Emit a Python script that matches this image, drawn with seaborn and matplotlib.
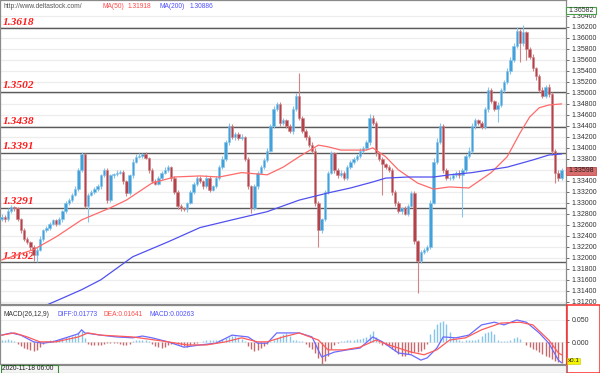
import numpy as np
import pandas as pd
import matplotlib
matplotlib.use("Agg")
import matplotlib.pyplot as plt
import seaborn as sns
from matplotlib.patches import Rectangle

# ================== DATA ==================
# closes in pips above 1.3000 (one candle per bar)
close_pips = [
    275, 270, 285, 292, 290, 270, 250, 235, 228, 220,
    205, 215, 235, 250, 255, 262, 268, 262, 270, 285,
    300, 305, 315, 325, 360, 388, 295, 315, 320, 325,
    330, 350, 360, 305, 350, 352, 355, 356, 340, 318,
    350, 375, 384, 385, 388, 382, 360, 340, 335, 345,
    355, 360, 365, 345, 320, 295, 290, 288, 300, 320,
    335, 345, 340, 330, 345, 324, 330, 345, 365, 380,
    410, 440, 420, 425, 418, 420, 380, 330, 290, 330,
    355, 365, 378, 395, 440, 470, 480, 445, 450, 440,
    430, 470, 495, 455, 430, 420, 405, 395, 300, 250,
    270, 320, 355, 390, 360, 350, 355, 345, 365, 375,
    380, 385, 395, 400, 410, 455, 445, 390, 380, 370,
    365, 360, 320, 300, 285, 290, 280, 295, 318, 230,
    195, 210, 215, 220, 300, 375, 410, 440, 360, 345,
    345, 350, 355, 350, 360, 385, 395, 440, 450, 445,
    438, 470, 505, 485, 470, 478, 505, 520, 540, 560,
    585, 612, 590, 610, 580, 565, 545, 530, 505, 495,
    510, 498, 395, 355, 345, 360,
]
first_open = 270

wick_up = [
    4, 3, 5, 4, 3, 2, 3, 4, 3, 2,
    3, 4, 5, 3, 2, 4, 3, 3, 5, 2,
    3, 4, 3, 5, 3, 4, 2, 3, 4, 3,
    5, 3, 4, 3, 2, 3, 4, 3, 3, 2,
    3, 4, 5, 6, 3, 4, 2, 3, 3, 4,
    3, 5, 3, 2, 3, 4, 3, 3, 2, 4,
    3, 4, 3, 2, 5, 3, 3, 4, 3, 5,
    4, 6, 3, 4, 3, 5, 2, 3, 3, 4,
    3, 4, 3, 5, 4, 6, 4, 3, 5, 3,
    4, 6, 5, 41, 3, 4, 3, 5, 4, 3,
    3, 4, 3, 5, 3, 3, 4, 3, 4, 3,
    3, 4, 5, 3, 4, 6, 4, 3, 3, 4,
    3, 4, 3, 3, 4, 3, 5, 3, 4, 3,
    3, 4, 3, 4, 5, 6, 8, 5, 4, 3,
    3, 4, 3, 5, 3, 4, 6, 5, 4, 3,
    4, 5, 6, 4, 3, 5, 4, 4, 5, 6,
    5, 8, 4, 13, 3, 4, 5, 3, 4, 5,
    4, 6, 3, 3, 4, 3,
]
wick_dn = [
    3, 4, 3, 3, 4, 3, 5, 4, 3, 5,
    10, 12, 3, 4, 3, 4, 3, 5, 3, 4,
    3, 4, 3, 3, 4, 3, 5, 30, 3, 4,
    3, 4, 3, 5, 3, 4, 3, 3, 5, 6,
    3, 4, 3, 3, 4, 3, 5, 4, 3, 3,
    4, 3, 3, 5, 4, 6, 5, 3, 4, 3,
    3, 4, 3, 5, 3, 4, 3, 3, 4, 3,
    3, 4, 3, 5, 3, 4, 3, 5, 8, 3,
    4, 3, 3, 4, 3, 4, 3, 5, 3, 4,
    3, 4, 3, 4, 3, 5, 3, 4, 5, 30,
    4, 3, 4, 3, 5, 4, 3, 4, 3, 3,
    4, 3, 3, 4, 3, 4, 3, 5, 4, 55,
    3, 4, 5, 6, 4, 5, 3, 4, 3, 5,
    59, 4, 3, 5, 4, 3, 4, 3, 5, 4,
    3, 4, 3, 5, 75, 4, 3, 4, 5, 4,
    3, 4, 5, 4, 3, 23, 4, 3, 4, 5,
    4, 3, 34, 5, 20, 4, 5, 6, 4, 5,
    4, 5, 8, 19, 6, 4,
]

# moving averages (candle index, pips above 1.3000)
ma50_idx = [0, 10, 17, 25, 34, 39, 47, 54, 62, 68, 75, 83, 88, 93, 99, 102,
            106, 114, 116, 120, 124, 130, 135, 140, 146, 153, 158, 162, 165,
            168, 171, 175]
ma50_pips = [196, 215, 238, 269, 291, 305, 336, 347, 349, 347, 355, 351, 365,
             384, 405, 402, 396, 396, 400, 384, 360, 336, 325, 329, 327, 355,
             384, 427, 456, 473, 478, 480]
ma200_idx = [12, 18, 25, 31, 41, 52, 62, 72, 83, 93, 102, 109, 116, 120, 127,
             135, 140, 147, 158, 166, 171, 175]
ma200_pips = [109, 124, 142, 160, 202, 229, 255, 269, 284, 305, 318, 327, 338,
              345, 347, 347, 351, 355, 365, 378, 387, 389]

# MACD lines (candle index, value x0.001)
diff_idx = [0, 3, 6, 10, 13, 16, 20, 24, 25, 26, 31, 36, 41, 44, 47, 52, 57,
            62, 67, 72, 77, 80, 83, 86, 89, 93, 97, 100, 104, 108, 112, 116,
            119, 124, 128, 131, 133, 136, 138, 142, 146, 150, 154, 157, 161,
            164, 168, 171, 174, 175]
diff_val = [16, 21, 16, 1, -2, 1, 10, 19, 28, 21, 16, 12, 10, 14, 10, 1, -11,
            -6, -2, 16, 12, -2, -2, 21, 21, 21, 12, -33, -22, -17, -13, 12,
            1, -24, -28, -40, -35, -13, 12, 10, 16, 39, 45, 39, 50, 45, 21,
            -2, -40, -46]
dea_idx = [0, 4, 8, 12, 17, 24, 27, 31, 41, 46, 52, 58, 64, 70, 75, 80, 83,
           88, 93, 99, 102, 107, 112, 117, 121, 128, 132, 136, 140, 145, 150,
           156, 162, 166, 171, 174, 175]
dea_val = [16, 21, 12, 1, 1, 12, 21, 16, 12, 7, 1, -6, -6, 1, 10, 1, 1, 12,
           21, 5, -17, -17, -11, 5, -6, -22, -28, -17, 5, 10, 28, 43, 45, 39,
           5, -24, -28]
macd_hist = [
    4, 6, 7, 5, 3,
    -3, -8, -12, -15, -18, -20, -17, -10,
    -4, 2, 4, 5, 6, 8, 9, 11, 12, 14, 17, 22, 25,
    10, -3, -5, -6, -6, -5,
    -3, -2, -2, -1, -2, -3,
    -5, -6, -4,
    2, 4, 5, 6, 5, 3,
    -4, -8, -11, -13, -10, -6,
    -3, -2, -3,
    -6, -9, -10, -7,
    -4, -2, 1,
    3, 4, 5, 6, 5, 6, 7,
    9, 11, 13, 14, 12, 8,
    2,
    -8, -14, -20, -18, -13, -8,
    -3, 2, 6,
    10, 14, 18, 20, 14,
    6, 4, 3, 2,
    -4, -10, -16, -24, -36,
    -48, -42, -30,
    -16, -7, -2,
    2, 3, 4, 5, 6, 7, 8, 10, 12,
    18, 25, 12,
    -2, -5, -6, -8,
    -14, -20, -26, -30, -30, -27, -24, -22, -21, -20, -14,
    -4,
    18, 30, 40, 46, 48, 40,
    22, 12, 8, 5, 3,
    4, 5, 6, 6, 8, 14,
    20, 24, 25, 18,
    4, 2, 2, 3,
    6, 10, 12, 8,
    1,
    -6, -10, -14, -18, -22, -26, -30, -34, -38, -42, -45, -46,
]

levels = [1.3618, 1.3502, 1.3438, 1.3391, 1.3291, 1.3192]
level_labels = ["1.3618", "1.3502", "1.3438", "1.3391", "1.3291", "1.3192"]
price_ticks = [1.312 + 0.002 * k for k in range(27)]
macd_ticks = [0.0, 0.05]
macd_tick_labels = ["0.000", "0.050"]

assert len(close_pips) == len(wick_up) == len(wick_dn) == len(macd_hist) == 176

# ================== BUILD FRAME ==================
base = 1.3
df = pd.DataFrame({"close": base + np.array(close_pips) / 10000})
df["open"] = np.r_[base + first_open / 10000, df["close"].values[:-1]]
df["high"] = df[["open", "close"]].max(axis=1) + np.array(wick_up) / 10000
df["low"] = df[["open", "close"]].min(axis=1) - np.array(wick_dn) / 10000
df["i"] = np.arange(len(df))
up = df["close"] >= df["open"]

ma50 = pd.DataFrame({"i": ma50_idx, "v": base + np.array(ma50_pips) / 10000})
ma200 = pd.DataFrame({"i": ma200_idx, "v": base + np.array(ma200_pips) / 10000})
diff = pd.DataFrame({"i": diff_idx, "v": np.array(diff_val) / 1000})
dea = pd.DataFrame({"i": dea_idx, "v": np.array(dea_val) / 1000})
hist = np.array(macd_hist) / 1000

# ================== STYLE ==================
sns.set_style("white")
plt.rcParams['font.family'] = ['Liberation Sans', 'DejaVu Sans']

W, H = 600, 373
fig = plt.figure(figsize=(6, 3.73), dpi=100)


def box(x0, y0, x1, y1):
    return [x0 / W, 1 - y1 / H, (x1 - x0) / W, (y1 - y0) / H]


def fx(x):
    return x / W


def fy(y):
    return 1 - y / H


ax = fig.add_axes(box(0, 0, 566, 304))
axm = fig.add_axes(box(0, 305, 566, 364))
xlim = (-0.5, -0.5 + 566 / 3.2)

# ================== PRICE PANE ==================
ax.set_ylim(1.3116, 1.3669)
ax.set_xlim(*xlim)
ax.set_yticks(price_ticks)
ax.set_yticklabels([f"{t:.5f}" for t in price_ticks])
ax.grid(axis="y", color="#ededed", lw=0.9)
ax.set_axisbelow(True)

for lv, lab in zip(levels, level_labels):
    ax.axhline(lv, color="#5a5a5a", lw=1.0, zorder=1)
    ax.annotate(lab, (0, lv), xytext=(2, 1.0), textcoords="offset points",
                xycoords=("axes fraction", "data"), color="#ff1a1a",
                fontsize=8.2, fontweight="bold", fontstyle="italic",
                family="Liberation Serif", va="bottom", ha="left")

col_up, col_dn = "#42a0da", "#b3424a"
colors = np.where(up, col_up, col_dn)
edges = np.where(up, "#86c3ea", "#cf8488")
ax.vlines(df["i"], df["low"], df["high"], colors=edges, lw=0.8, zorder=3)
body = (df["close"] - df["open"]).abs().clip(lower=0.00004)
ax.bar(df["i"], body, bottom=df[["open", "close"]].min(axis=1), width=0.75,
       color=colors, edgecolor=edges, linewidth=0.4, zorder=4)

sns.lineplot(data=ma50, x="i", y="v", ax=ax, color="#ff6a6a", lw=0.9, zorder=5)
sns.lineplot(data=ma200, x="i", y="v", ax=ax, color="#5050f0", lw=0.9, zorder=5)

ax.yaxis.tick_right()
ax.tick_params(axis="y", labelsize=5, length=2.5, pad=1.5, colors="#555",
               labelcolor="#333", direction="out", right=True, width=0.6)
ax.set_xticks([])
ax.set_xlabel("")
ax.set_ylabel("")
for s in ax.spines.values():
    s.set_color("#8a8a8a")
    s.set_linewidth(0.9)

# ================== MACD PANE ==================
axm.set_xlim(*xlim)
axm.set_ylim(-0.0487, 0.0836)
hx = np.arange(len(hist))
axm.vlines(hx[hist >= 0], 0, hist[hist >= 0], colors="#86c4e8", lw=1.0, zorder=2)
axm.vlines(hx[hist < 0], 0, hist[hist < 0], colors="#c8686e", lw=1.0, zorder=2)
sns.lineplot(data=dea, x="i", y="v", ax=axm, color="#ff5a5a", lw=0.9, zorder=4)
sns.lineplot(data=diff, x="i", y="v", ax=axm, color="#6a6aff", lw=0.9, zorder=3)
axm.set_yticks(macd_ticks)
axm.set_yticklabels(macd_tick_labels)
axm.grid(axis="y", color="#efefef", lw=0.8)
axm.set_axisbelow(True)
axm.yaxis.tick_right()
axm.tick_params(axis="y", labelsize=5, length=2.5, pad=1.5, colors="#555",
                labelcolor="#333", width=0.6)
axm.set_xticks([])
axm.set_xlabel("")
axm.set_ylabel("")
for s in axm.spines.values():
    s.set_color("#8a8a8a")
    s.set_linewidth(0.9)

# ================== HEADERS / BOXES ==================
fs = 4.8
fig.text(fx(3), fy(6), "http://www.deltastock.com/", color="#555", fontsize=fs, va="center")
fig.text(fx(102), fy(6), "MA(50)", color="#ff4a4a", fontsize=fs, va="center")
fig.text(fx(128), fy(6), "1.31918", color="#ff4a4a", fontsize=fs, va="center")
fig.text(fx(159), fy(6), "MA(200)", color="#5050ff", fontsize=fs, va="center")
fig.text(fx(190), fy(6), "1.30886", color="#5050ff", fontsize=fs, va="center")

fig.text(fx(3), fy(315), "MACD(26,12,9)", color="#333", fontsize=fs, va="center")
fig.text(fx(57), fy(315), "DIFF:0.01773", color="#5050ff", fontsize=fs, va="center")
fig.text(fx(104), fy(315), "DEA:0.01641", color="#ff4a4a", fontsize=fs, va="center")
fig.text(fx(150), fy(315), "MACD:0.00263", color="#5050ff", fontsize=fs, va="center")

# current price / high markers on right scale
fig.patches.append(Rectangle((fx(566), fy(14)), 30 / W, 7 / H, transform=fig.transFigure,
                             facecolor="white", edgecolor="#4aa04a", lw=0.8, zorder=10))
fig.text(fx(568), fy(10.5), "1.36582", fontsize=5, color="#333", va="center", zorder=11)
fig.patches.append(Rectangle((fx(566), fy(175)), 30 / W, 8 / H, transform=fig.transFigure,
                             facecolor="#d96c6c", edgecolor="#c05050", lw=0.6, zorder=10))
fig.text(fx(568), fy(171), "1.33598", fontsize=5, color="#222", va="center", zorder=11)

# MACD scale frame and multiplier
fig.patches.append(Rectangle((fx(566.5), fy(372.5)), 33 / W, 67.5 / H, transform=fig.transFigure,
                             facecolor="none", edgecolor="#ff2a2a", lw=1.1, zorder=10))
fig.patches.append(Rectangle((fx(567), fy(364)), 13 / W, 6 / H, transform=fig.transFigure,
                             facecolor="#f5f500", edgecolor="#c8c800", lw=0.4, zorder=11))
fig.text(fx(567.5), fy(361), "x0.1", fontsize=4.5, color="#222", va="center", zorder=12)

# date bar
fig.patches.append(Rectangle((fx(57), fy(372.5)), 509 / W, 8 / H, transform=fig.transFigure,
                             facecolor="#f4f4f4", edgecolor="#8a8a8a", lw=0.8, zorder=10))
fig.patches.append(Rectangle((fx(0.5), fy(372.5)), 57 / W, 8 / H, transform=fig.transFigure,
                             facecolor="#f4f4f4", edgecolor="#3a8a3a", lw=0.8, zorder=11))
fig.text(fx(2), fy(368.5), "2020-11-18 06:00", fontsize=4.8, color="#222", va="center", zorder=12)

fig.savefig("out.png", dpi=100)
